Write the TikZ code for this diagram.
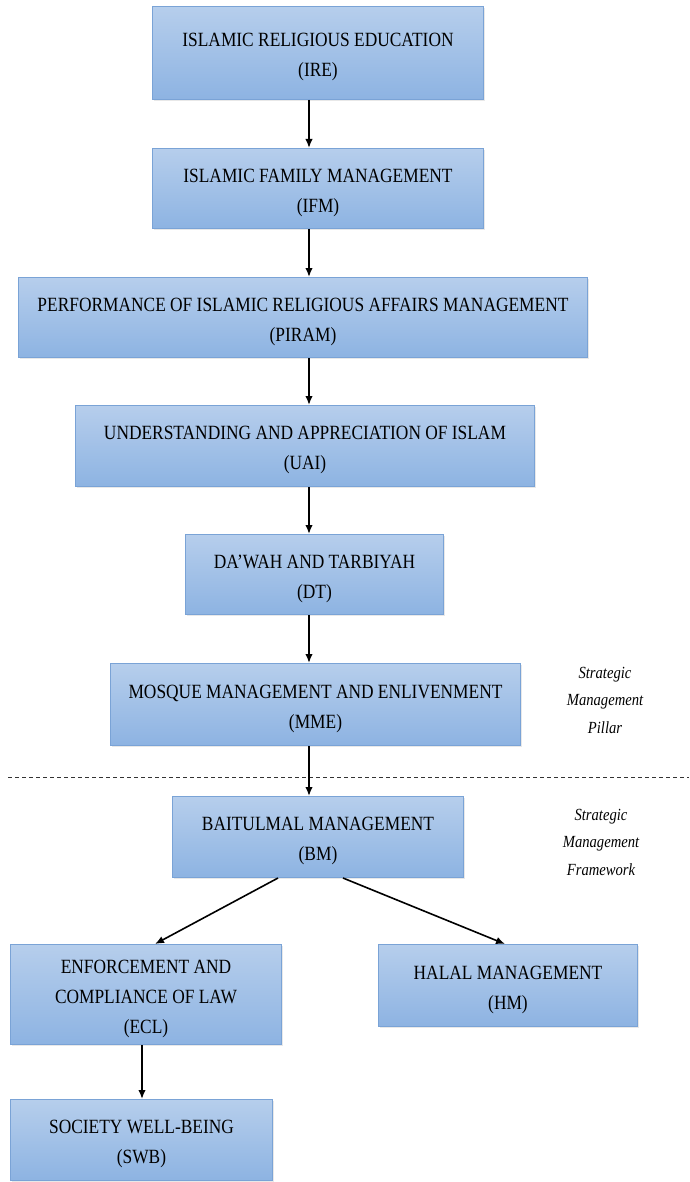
\documentclass[tikz,border=0pt]{standalone}
\usepackage{fontspec}
\setmainfont{Liberation Serif}[FakeStretch=0.86]
\usetikzlibrary{arrows.meta,calc,shadows}
\definecolor{boxtop}{RGB}{182,206,236}
\definecolor{boxbot}{RGB}{141,179,226}
\definecolor{boxline}{RGB}{122,163,214}
\tikzset{
  box/.style={rectangle, anchor=north west, draw=boxline, line width=1pt,
    top color=boxtop, bottom color=boxbot, inner sep=0pt,
    drop shadow={opacity=0.18, shadow xshift=1.2pt, shadow yshift=-1.2pt},
    label={[lbl]center:{#1}}},
  lbl/.style={align=center, inner sep=0pt, yshift=-4pt,
    font=\fontsize{20.2}{30}\selectfont},
  arr/.style={-{Latex[length=9pt,width=7.5pt]}, line width=1.6pt, black},
  side/.style={align=center, font=\fontsize{17}{27.5}\selectfont\itshape},
}
\begin{document}
\begin{tikzpicture}[x=1pt,y=1pt]
\useasboundingbox (0,0) rectangle (689,-1182);
\node[box={ISLAMIC RELIGIOUS EDUCATION\\(IRE)}, minimum width=331pt, minimum height=93pt] (IRE) at (152,-6) {};
\node[box={ISLAMIC FAMILY MANAGEMENT\\(IFM)}, minimum width=331pt, minimum height=80pt] (IFM) at (152,-148) {};
\node[box={PERFORMANCE OF ISLAMIC RELIGIOUS AFFAIRS MANAGEMENT\\(PIRAM)}, minimum width=569pt, minimum height=80pt] (PIRAM) at (18,-277) {};
\node[box={UNDERSTANDING AND APPRECIATION OF ISLAM\\(UAI)}, minimum width=459pt, minimum height=81pt] (UAI) at (75,-405) {};
\node[box={DA'WAH AND TARBIYAH\\(DT)}, minimum width=258pt, minimum height=80pt] (DT) at (185,-534) {};
\node[box={MOSQUE MANAGEMENT AND ENLIVENMENT\\(MME)}, minimum width=410pt, minimum height=82pt] (MME) at (110,-663) {};
\node[box={BAITULMAL MANAGEMENT\\(BM)}, minimum width=291pt, minimum height=81pt] (BM) at (172,-796) {};
\node[box={ENFORCEMENT AND\\COMPLIANCE OF LAW\\(ECL)}, minimum width=271pt, minimum height=100pt] (ECL) at (10,-944) {};
\node[box={HALAL MANAGEMENT\\(HM)}, minimum width=259pt, minimum height=82pt] (HM) at (378,-944) {};
\node[box={SOCIETY WELL-BEING\\(SWB)}, minimum width=262pt, minimum height=81pt] (SWB) at (10,-1099) {};

\node[side] (pillar) at (605,-700) {Strategic\\Management\\Pillar};
\node[side] (frame) at (601,-842) {Strategic\\Management\\Framework};

\coordinate (dl) at (8,-777);
\coordinate (dr) at (689,-777);
\draw[line width=0.8pt, black!80, dash pattern=on 4pt off 3pt] (dl) -- (dr);

\coordinate (ax) at (309,0);
\draw[arr] (IRE.south -| ax) -- (IFM.north -| ax);
\draw[arr] (IFM.south -| ax) -- (PIRAM.north -| ax);
\draw[arr] (PIRAM.south -| ax) -- (UAI.north -| ax);
\draw[arr] (UAI.south -| ax) -- (DT.north -| ax);
\draw[arr] (DT.south -| ax) -- (MME.north -| ax);
\draw[arr] (MME.south -| ax) -- (BM.north -| ax);
\coordinate (b1) at (278,0);
\coordinate (e1) at (155,0);
\coordinate (b2) at (343,0);
\coordinate (h2) at (505,0);
\draw[arr] (BM.south -| b1) -- (ECL.north -| e1);
\draw[arr] (BM.south -| b2) -- (HM.north -| h2);
\coordinate (ex) at (142,0);
\draw[arr] (ECL.south -| ex) -- (SWB.north -| ex);
\end{tikzpicture}
\end{document}
